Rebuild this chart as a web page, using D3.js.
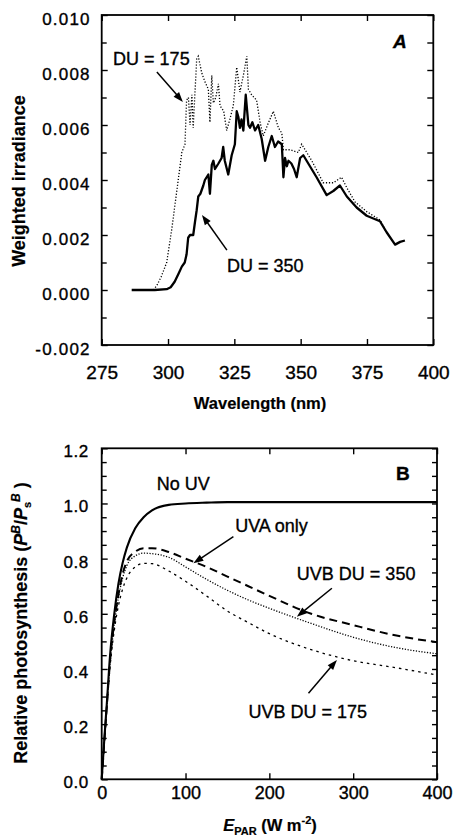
<!DOCTYPE html>
<html><head><meta charset="utf-8">
<script src="https://cdn.jsdelivr.net/npm/d3@7"></script>
<style>
html,body{margin:0;padding:0;background:#fff;}
svg{display:block;font-family:"Liberation Sans",Arial,Helvetica,sans-serif;}
</style></head><body>
<svg id="c" width="454" height="838"></svg>
<script>
// ---------- Panel A data ----------
const wl350 = [286.3,290,295,299.5,301,302.5,304,305.2,306.3,307,307.6,308.3,309.5,310.2,310.8,311.4,312.2,313.3,313.9,315.2,315.8,316.5,317.1,317.7,319,320.2,320.8,321.4,322.7,324,325.2,325.9,326.5,327.1,327.7,328.4,329.3,330.3,330.9,331.8,332.8,334,335.3,336.6,337.8,339.1,340.3,341.5,342.9,343.5,344.1,344.8,345.4,346.5,347.5,348.5,349.8,351,353.5,356,359.8,362.3,364.8,367.4,371.1,374.9,379.9,382.4,385.6,387.5,389.3];
const irr350 = [0,0,0,0.00003,0.0001,0.0003,0.0006,0.00085,0.001,0.0013,0.0019,0.002,0.002,0.0025,0.0029,0.0034,0.0035,0.0038,0.004,0.0042,0.0035,0.00455,0.0047,0.0044,0.0046,0.0048,0.0052,0.0047,0.0042,0.0049,0.0053,0.0065,0.0063,0.0059,0.0062,0.0058,0.0071,0.006,0.0059,0.0061,0.0058,0.006,0.0055,0.0047,0.0052,0.0056,0.0052,0.0054,0.0053,0.0041,0.0048,0.0045,0.0047,0.0046,0.0044,0.0041,0.0048,0.0049,0.0045,0.0041,0.00345,0.0036,0.0038,0.0034,0.003,0.0027,0.0025,0.0021,0.00165,0.00175,0.0018];
const wl175 = [294.5,296,297.5,299.5,301.4,303.3,305.2,306.4,307,307.7,308.3,309,309.5,310.8,311.4,312.7,313.8,315.2,315.8,316.5,317.1,318,319,319.6,321,322.1,323.3,324.6,325.9,327.1,328.4,329.7,330.3,331.5,333.4,334.7,335.9,337.5,339.7,341.6,342.9,343.5,346,349.1,350.4,354.2,358.5,362.3,365.4,367.5,370.5,374.9,379.9,382.4];
const irr175 = [0,0.0002,0.0005,0.001,0.0022,0.0036,0.005,0.0053,0.0069,0.007,0.006,0.0071,0.0059,0.0084,0.0085,0.0079,0.0076,0.0073,0.0061,0.0078,0.0068,0.007,0.0075,0.0067,0.0065,0.0058,0.0062,0.0067,0.0081,0.0072,0.0078,0.0085,0.0073,0.0071,0.0069,0.0061,0.0056,0.006,0.0065,0.0059,0.0057,0.0051,0.0051,0.005,0.0053,0.0047,0.0039,0.0039,0.0041,0.0037,0.0032,0.00285,0.00255,0.0021];
const xTicksA = [275,300,325,350,375,400];
const yTicksA = [-0.002,0.000,0.002,0.004,0.006,0.008,0.010];
const yMinorA = [-0.001,0.001,0.003,0.005,0.007,0.009];

// ---------- Panel B data ----------
const parE   = [0,3,6,10,15,20,25,30,40,50,60,80,100,125,150,175,200,250,300,350,400];
const noUV   = [0,0.14,0.27,0.45,0.60,0.71,0.785,0.84,0.91,0.95,0.975,0.995,1.0,1.003,1.005,1.005,1.005,1.005,1.005,1.005,1.005];
const uvaOnly= [0,0.13,0.26,0.43,0.57,0.67,0.745,0.79,0.825,0.838,0.838,0.824,0.80,0.77,0.735,0.70,0.665,0.60,0.559,0.522,0.497];
const uvb350 = [0,0.13,0.26,0.42,0.56,0.66,0.73,0.775,0.81,0.82,0.818,0.805,0.77,0.725,0.685,0.65,0.62,0.565,0.515,0.478,0.455];
const uvb175 = [0,0.13,0.26,0.41,0.54,0.63,0.69,0.73,0.77,0.783,0.782,0.755,0.718,0.665,0.61,0.568,0.528,0.47,0.43,0.405,0.378];
const xTicksB = [0,100,200,300,400];
const yTicksB = [0.0,0.2,0.4,0.6,0.8,1.0,1.2];

const svg = d3.select("#c");
const FONT = '"Liberation Sans",Arial,Helvetica,sans-serif';

// scales
const xA = d3.scaleLinear().domain([275,400]).range([101.7,433.3]);
const yA = d3.scaleLinear().domain([-0.002,0.010]).range([345,15]);
const xB = d3.scaleLinear().domain([0,400]).range([101.7,437]);
const yB = d3.scaleLinear().domain([0,1.2]).range([779.3,448.3]);

const fmtA = d => d3.format(".3f")(d).replace("\u2212","-");

function frame(x,y){
  svg.append("rect").attr("x",x.range()[0]).attr("y",y.range()[1])
    .attr("width",x.range()[1]-x.range()[0]).attr("height",y.range()[0]-y.range()[1])
    .attr("fill","none").attr("stroke","#000").attr("stroke-width",1.8);
}
function styleAxis(g,fs,ls){
  g.select(".domain").remove();
  g.selectAll(".tick line").attr("stroke","#000").attr("stroke-width",1.4);
  g.selectAll("text").attr("fill","#000").attr("font-size",fs).attr("font-family",FONT)
   .attr("stroke","#000").attr("stroke-width",0.35).attr("letter-spacing",ls||0);
}
function arrow(x1,y1,x2,y2){
  const ang=Math.atan2(y2-y1,x2-x1), L=10, W=3.6;
  svg.append("line").attr("x1",x1).attr("y1",y1)
    .attr("x2",x2-Math.cos(ang)*L*0.8).attr("y2",y2-Math.sin(ang)*L*0.8)
    .attr("stroke","#000").attr("stroke-width",1.5);
  const bx=x2-Math.cos(ang)*L, by=y2-Math.sin(ang)*L;
  const px=-Math.sin(ang)*W, py=Math.cos(ang)*W;
  svg.append("path").attr("d",`M${x2},${y2}L${bx+px},${by+py}L${bx-px},${by-py}Z`).attr("fill","#000");
}
function label(x,y,t,fs,anchor,extra){
  const e=svg.append("text").attr("x",x).attr("y",y).text(t)
    .attr("font-size",fs).attr("font-family",FONT).attr("text-anchor",anchor||"start")
    .attr("fill","#000").attr("stroke","#000").attr("stroke-width",0.35);
  if(extra) extra(e);
  return e;
}

// ======== PANEL A ========
let g;
g=svg.append("g").attr("transform",`translate(${xA.range()[0]},0)`)
  .call(d3.axisLeft(yA).tickValues(yTicksA).tickFormat(fmtA).tickSize(-6).tickPadding(11));
styleAxis(g,17,1.2); g.selectAll("text").attr("dy","0.58em");
g=svg.append("g").attr("transform",`translate(${xA.range()[0]},0)`)
  .call(d3.axisLeft(yA).tickValues(yMinorA).tickFormat("").tickSize(-5));
styleAxis(g,17);
g=svg.append("g").attr("transform",`translate(${xA.range()[1]},0)`)
  .call(d3.axisRight(yA).tickValues(yTicksA.concat(yMinorA)).tickFormat("").tickSize(-6));
styleAxis(g,17);
g=svg.append("g").attr("transform",`translate(0,${yA.range()[0]})`)
  .call(d3.axisBottom(xA).tickValues(xTicksA).tickFormat(d3.format("d")).tickSize(-6).tickPadding(21));
styleAxis(g,19);
g=svg.append("g").attr("transform",`translate(0,${yA.range()[1]})`)
  .call(d3.axisTop(xA).tickValues(xTicksA).tickFormat("").tickSize(-6));
styleAxis(g,19);
frame(xA,yA);

const lineA = d3.line().x(d=>xA(d[0])).y(d=>yA(d[1])).curve(d3.curveLinear);
svg.append("path").datum(d3.zip(wl175,irr175)).attr("d",lineA)
  .attr("fill","none").attr("stroke","#000").attr("stroke-width",1.3).attr("stroke-dasharray","1.2,1.8");
svg.append("path").datum(d3.zip(wl350,irr350)).attr("d",lineA)
  .attr("fill","none").attr("stroke","#000").attr("stroke-width",2.3).attr("stroke-linejoin","round");

label(xA(279.3),yA(0.00818),"DU = 175",18);
arrow(xA(295.8),yA(0.00793),xA(305.6),yA(0.00684));
label(xA(322.2),yA(0.00065),"DU = 350",18);
arrow(xA(322.2),yA(0.00145),xA(312.8),yA(0.00273));
label(xA(387.4),yA(0.0088),"A",19,"middle",e=>e.attr("font-weight","bold").attr("font-style","italic"));

label(260,409,"Wavelength (nm)",16.5,"middle",e=>e.attr("font-weight","bold").attr("stroke-width",0.2));
label(0,0,"Weighted irradiance",18,"middle",e=>e.attr("font-weight","bold").attr("stroke-width",0.2)
  .attr("transform","translate(25,181) rotate(-90)"));

// ======== PANEL B ========
const yMinorB = d3.range(0,1.2001,0.05).filter(v=>Math.abs(v*5-Math.round(v*5))>1e-6);
g=svg.append("g").attr("transform",`translate(${xB.range()[0]},0)`)
  .call(d3.axisLeft(yB).tickValues(yTicksB).tickFormat(d3.format(".1f")).tickSize(-6).tickPadding(13));
styleAxis(g,17,0.5); g.selectAll("text").attr("dy","0.5em");
g=svg.append("g").attr("transform",`translate(${xB.range()[0]},0)`)
  .call(d3.axisLeft(yB).tickValues(yMinorB).tickFormat("").tickSize(-5));
styleAxis(g,17);
g=svg.append("g").attr("transform",`translate(${xB.range()[1]},0)`)
  .call(d3.axisRight(yB).tickValues(yTicksB.concat(yMinorB)).tickFormat("").tickSize(-5));
styleAxis(g,17);
g=svg.append("g").attr("transform",`translate(0,${yB.range()[0]})`)
  .call(d3.axisBottom(xB).tickValues(xTicksB).tickFormat(d3.format("d")).tickSize(-6).tickPadding(7));
styleAxis(g,18);
g=svg.append("g").attr("transform",`translate(0,${yB.range()[1]})`)
  .call(d3.axisTop(xB).tickValues(xTicksB).tickFormat("").tickSize(-6));
styleAxis(g,18);
frame(xB,yB);

const lineB = (arr)=> d3.line().x((d,i)=>xB(parE[i])).y(d=>yB(d)).curve(d3.curveMonotoneX)(arr);
svg.append("path").attr("d",lineB(uvb175)).attr("fill","none").attr("stroke","#000")
  .attr("stroke-width",1.3).attr("stroke-dasharray","2.5,4");
svg.append("path").attr("d",lineB(uvb350)).attr("fill","none").attr("stroke","#000")
  .attr("stroke-width",1.3).attr("stroke-dasharray","1.2,1.6");
svg.append("path").attr("d",lineB(uvaOnly)).attr("fill","none").attr("stroke","#000")
  .attr("stroke-width",2).attr("stroke-dasharray","8,5");
svg.append("path").attr("d",lineB(noUV)).attr("fill","none").attr("stroke","#000")
  .attr("stroke-width",2.1);

label(xB(65.7),yB(1.049),"No UV",18);
label(xB(159.2),yB(0.8976),"UVA only",18);
arrow(xB(157.1),yB(0.8795),xB(109.4),yB(0.783));
label(xB(232.8),yB(0.7234),"UVB DU = 350",18);
arrow(xB(274.6),yB(0.6925),xB(232.8),yB(0.5895));
label(xB(175),yB(0.2211),"UVB DU = 175",18);
arrow(xB(246.7),yB(0.3118),xB(280.6),yB(0.4325));
label(xB(359.2),yB(1.085),"B",19,"middle",e=>e.attr("font-weight","bold"));

// y label B
(function(){
  const t=svg.append("text").attr("transform","translate(27,623) rotate(-90)")
    .attr("text-anchor","middle").attr("font-family",FONT).attr("font-size",18)
    .attr("font-weight","bold").attr("fill","#000").attr("stroke","#000").attr("stroke-width",0.2);
  t.append("tspan").text("Relative photosynthesis (");
  t.append("tspan").text("P").attr("font-style","italic");
  t.append("tspan").text("B").attr("font-style","italic").attr("font-size",12).attr("dy",-7);
  t.append("tspan").text("/").attr("dy",7);
  t.append("tspan").text("P").attr("font-style","italic");
  t.append("tspan").text("s").attr("font-size",11).attr("dy",4);
  t.append("tspan").text("B").attr("font-style","italic").attr("font-size",12).attr("dy",-11);
  t.append("tspan").text(" )").attr("dy",7);
})();
// x label B
(function(){
  const t=svg.append("text").attr("x",270).attr("y",831)
    .attr("text-anchor","middle").attr("font-family",FONT).attr("font-size",16.5)
    .attr("font-weight","bold").attr("fill","#000").attr("stroke","#000").attr("stroke-width",0.2);
  t.append("tspan").text("E").attr("font-style","italic");
  t.append("tspan").text("PAR").attr("font-size",11).attr("dy",4);
  t.append("tspan").text(" (W m").attr("dy",-4);
  t.append("tspan").text("-2").attr("font-size",11).attr("dy",-7);
  t.append("tspan").text(")").attr("dy",7);
})();
</script>
</body></html>
